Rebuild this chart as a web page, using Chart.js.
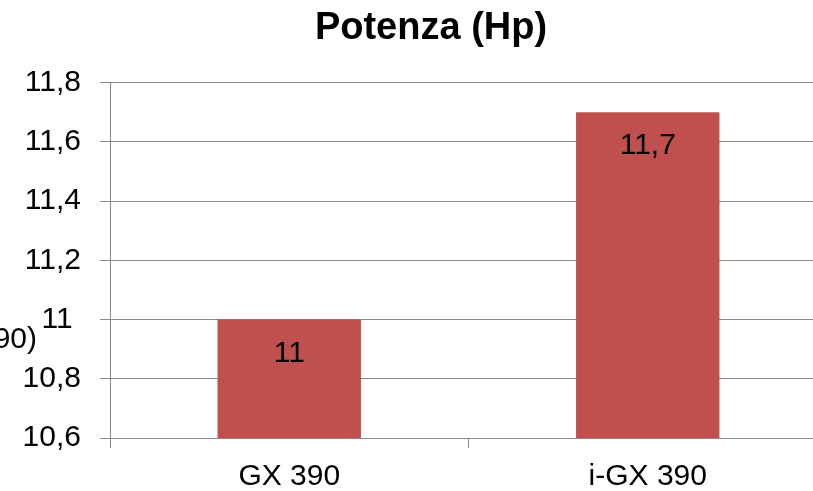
<!DOCTYPE html>
<html>
<head>
<meta charset="utf-8">
<script src="https://cdn.jsdelivr.net/npm/chart.js@4/dist/chart.umd.min.js"></script>
<style>
html,body{margin:0;padding:0;overflow:hidden;background:#fff;}
#wrap{position:absolute;left:0;top:0;width:862px;height:491px;}
</style>
</head>
<body>
<div id="wrap"><canvas id="c" width="862" height="491"></canvas></div>
<script>
const categories = ['GX 390', 'i-GX 390'];
const values = [11, 11.7];
const valueLabels = ['11', '11,7'];
const yTickLabels = ['10,6', '10,8', '11 ', '11,2', '11,4', '11,6', '11,8'];
const chartTitle = 'Potenza (Hp)';
const clippedText = '90)';

const FONT = "'Liberation Sans', Arial, sans-serif";
const GRID = '#888888';

const labelPlugin = {
  id: 'labels',
  afterLayout(chart) {
    // let the y tick labels use the whole left margin (no clipping)
    chart.scales.y.left = 0;
  },
  afterDatasetsDraw(chart) {
    const ctx = chart.ctx;
    const meta = chart.getDatasetMeta(0);
    ctx.save();
    ctx.font = '30px ' + FONT;
    ctx.fillStyle = '#000';
    ctx.textAlign = 'center';
    ctx.textBaseline = 'alphabetic';
    meta.data.forEach((bar, i) => {
      ctx.fillText(valueLabels[i], bar.x, bar.y + 42);
    });
    const y = chart.scales.y.getPixelForValue(11);
    ctx.textAlign = 'right';
    ctx.fillText(clippedText, 37, y + 28);
    ctx.restore();
  }
};

new Chart(document.getElementById('c'), {
  type: 'bar',
  data: {
    labels: categories,
    datasets: [{
      data: values,
      backgroundColor: '#C0504D',
      borderWidth: 0,
      categoryPercentage: 1,
      barPercentage: 0.4
    }]
  },
  options: {
    responsive: false,
    animation: false,
    devicePixelRatio: 1,
    layout: { padding: { left: 35, right: 35, top: 0, bottom: 0 } },
    plugins: {
      legend: { display: false },
      tooltip: { enabled: false },
      title: {
        display: true,
        text: chartTitle,
        color: '#000',
        font: { family: FONT, size: 38, weight: 'bold' },
        padding: { top: 6, bottom: 31 }
      }
    },
    scales: {
      x: {
        grid: { offset: true, drawOnChartArea: false, color: GRID, tickLength: 10, lineWidth: 1 },
        border: { color: GRID, width: 1 },
        ticks: { color: '#000', font: { family: FONT, size: 30 }, padding: 11, maxRotation: 0 },
        afterFit(s) { s.height = 53; }
      },
      y: {
        min: 10.6,
        max: 11.8,
        grid: { color: GRID, tickLength: 10, lineWidth: 1 },
        border: { color: GRID, width: 1 },
        ticks: {
          stepSize: 0.2,
          color: '#000',
          font: { family: FONT, size: 30 },
          padding: 19,
          callback: (v, i) => yTickLabels[i]
        },
        afterFit(s) { s.width = 75; }
      }
    }
  },
  plugins: [labelPlugin]
});
</script>
</body>
</html>
